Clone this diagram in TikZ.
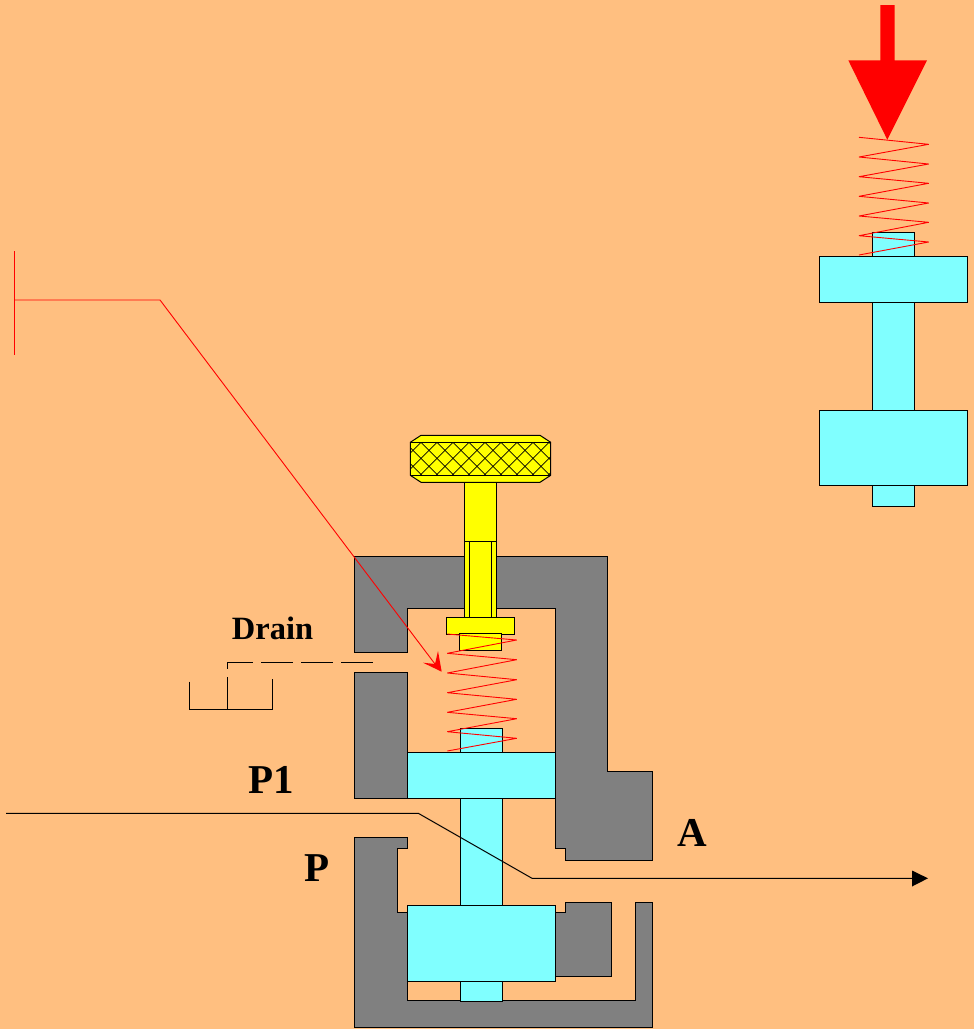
\documentclass[tikz,border=0pt]{standalone}
\usepackage{fontspec}
\setmainfont{Liberation Serif}
\definecolor{bg}{HTML}{FFBF80}
\definecolor{cy}{HTML}{80FFFF}
\definecolor{gr}{HTML}{808080}
\definecolor{yl}{HTML}{FFFF00}
\tikzset{
  part/.style={draw=black,line width=1pt,line join=miter},
  body/.style={part,fill=gr},
  cyanpart/.style={part,fill=cy},
  yellowpart/.style={part,fill=yl},
  coil/.style={draw=red,line width=0.9pt,line join=bevel},
  redline/.style={draw=red,line width=0.9pt},
  thin line/.style={draw=black,line width=1pt},
  hatchline/.style={draw=black,line width=0.75pt},
  bigtext/.style={font=\bfseries\fontsize{41}{41}\selectfont,inner sep=0pt,text=black},
}
\begin{document}
\begin{tikzpicture}[x=1pt,y=-1pt]
\useasboundingbox (0,0) rectangle (974,1029);
\fill[bg] (0,0) rectangle (974,1029);
% right-hand loose valve
\draw[cyanpart] (872,232) rectangle (914.3,506);
\draw[cyanpart] (819.3,256.3) rectangle (967.3,302.3);
\draw[cyanpart] (819.3,410) rectangle (967.3,485);
\draw[coil] (859,137.3) -- (928.7,144.3) -- (859,157) -- (928.7,164) -- (859,176.7) -- (928.7,183.3) -- (859,196.3) -- (928.7,203) -- (859,216) -- (928.7,222.3) -- (859,235.7) -- (928.7,242) -- (859,255);
\fill[red] (880.3,5) -- (894.7,5) -- (894.7,60.3) -- (927,60.3) -- (887.3,139.7) -- (848.3,60.3) -- (880.3,60.3) -- cycle;
% valve body
\draw[body] (354.7,556.7) -- (607.7,556.7) -- (607.7,771.7) -- (652.3,771.7) -- (652.3,860) -- (565.3,860) -- (565.3,848.7) -- (555.3,848.7) -- (555.3,608.7) -- (407.7,608.7) -- (407.7,652.7) -- (354.7,652.7) -- cycle;
\draw[body] (354.7,672.3) -- (407.7,672.3) -- (407.7,798) -- (354.7,798) -- cycle;
\draw[body] (354.7,837) -- (407.7,837) -- (407.7,848.7) -- (397.3,848.7) -- (397.3,912.3) -- (407.7,912.3) -- (407.7,1000) -- (635.7,1000) -- (635.7,902.3) -- (652.3,902.3) -- (652.3,1027.7) -- (354.7,1027.7) -- cycle;
\draw[body] (555.3,912.3) -- (565,912.3) -- (565,902.3) -- (611.3,902.3) -- (611.3,976.3) -- (555.3,976.3) -- cycle;
% spool
\draw[cyanpart] (460.7,728.3) rectangle (502.7,1001.7);
\draw[cyanpart] (407.7,752.7) rectangle (555.3,798);
\draw[cyanpart] (407.7,905.7) rectangle (555.3,981);
% adjusting screw
\draw[yellowpart] (421,435.3) -- (540,435.3) -- (550.7,442.3) -- (550.7,475.3) -- (540,482.3) -- (421,482.3) -- (410.3,475.3) -- (410.3,442.3) -- cycle;
\begin{scope}
\clip (410.3,442.3) rectangle (550.7,475.3);
\foreach \k in {-3,...,13}{
  \draw[hatchline] ({405+16*\k},442.3) -- ++(33,33);
  \draw[hatchline] ({405+16*\k},442.3) -- ++(-33,33);
}
\end{scope}
\draw[part] (410.3,442.3) rectangle (550.7,475.3);
\draw[yellowpart] (464.7,482.3) rectangle (496.7,541.3);
\draw[yellowpart] (464.7,541.3) rectangle (496.7,617.3);
\draw[part] (469.7,541.3) -- (469.7,617.3) (491.7,541.3) -- (491.7,617.3);
\draw[yellowpart] (446.7,617.3) rectangle (514.7,634);
\draw[yellowpart] (459.3,633.3) rectangle (501.7,650.3);
% spring
\draw[coil] (447.3,634) -- (516.7,640) -- (447.3,653.3) -- (516.7,659.7) -- (447.3,673) -- (516.7,679.7) -- (447.3,692.7) -- (516.7,699.3) -- (447.3,712.3) -- (516.7,718.7) -- (447.3,731.7) -- (516.7,738.3) -- (447.3,751);
% red pointer
\draw[redline] (14,251) -- (14,355);
\draw[redline] (14,300) -- (160,300) -- (435,664);
\fill[red] (441.7,671.7) -- (423,662.7) -- (435,664) -- (438,651) -- cycle;
% drain
\draw[thin line,dash pattern=on 32pt off 8pt] (372.7,662.7) -- (227,662.7) -- (227,710);
\draw[thin line] (189.7,681.7) -- (189.7,709.7) -- (272.7,709.7) -- (272.7,679.3);
% flow line
\draw[thin line] (6,813.3) -- (418.3,813.3) -- (532,878.3) -- (915,878.3);
\fill[black] (928,878.3) -- (912,870.5) -- (912,886.5) -- cycle;
% labels
\node[bigtext,font=\bfseries\fontsize{32.5}{32.5}\selectfont] (drain) at (272.5,628) {Drain};
\node[bigtext] (p1) at (271,780) {P1};
\node[bigtext] (a) at (692,833) {A};
\node[bigtext] (p) at (317,868) {P};
\end{tikzpicture}
\end{document}
